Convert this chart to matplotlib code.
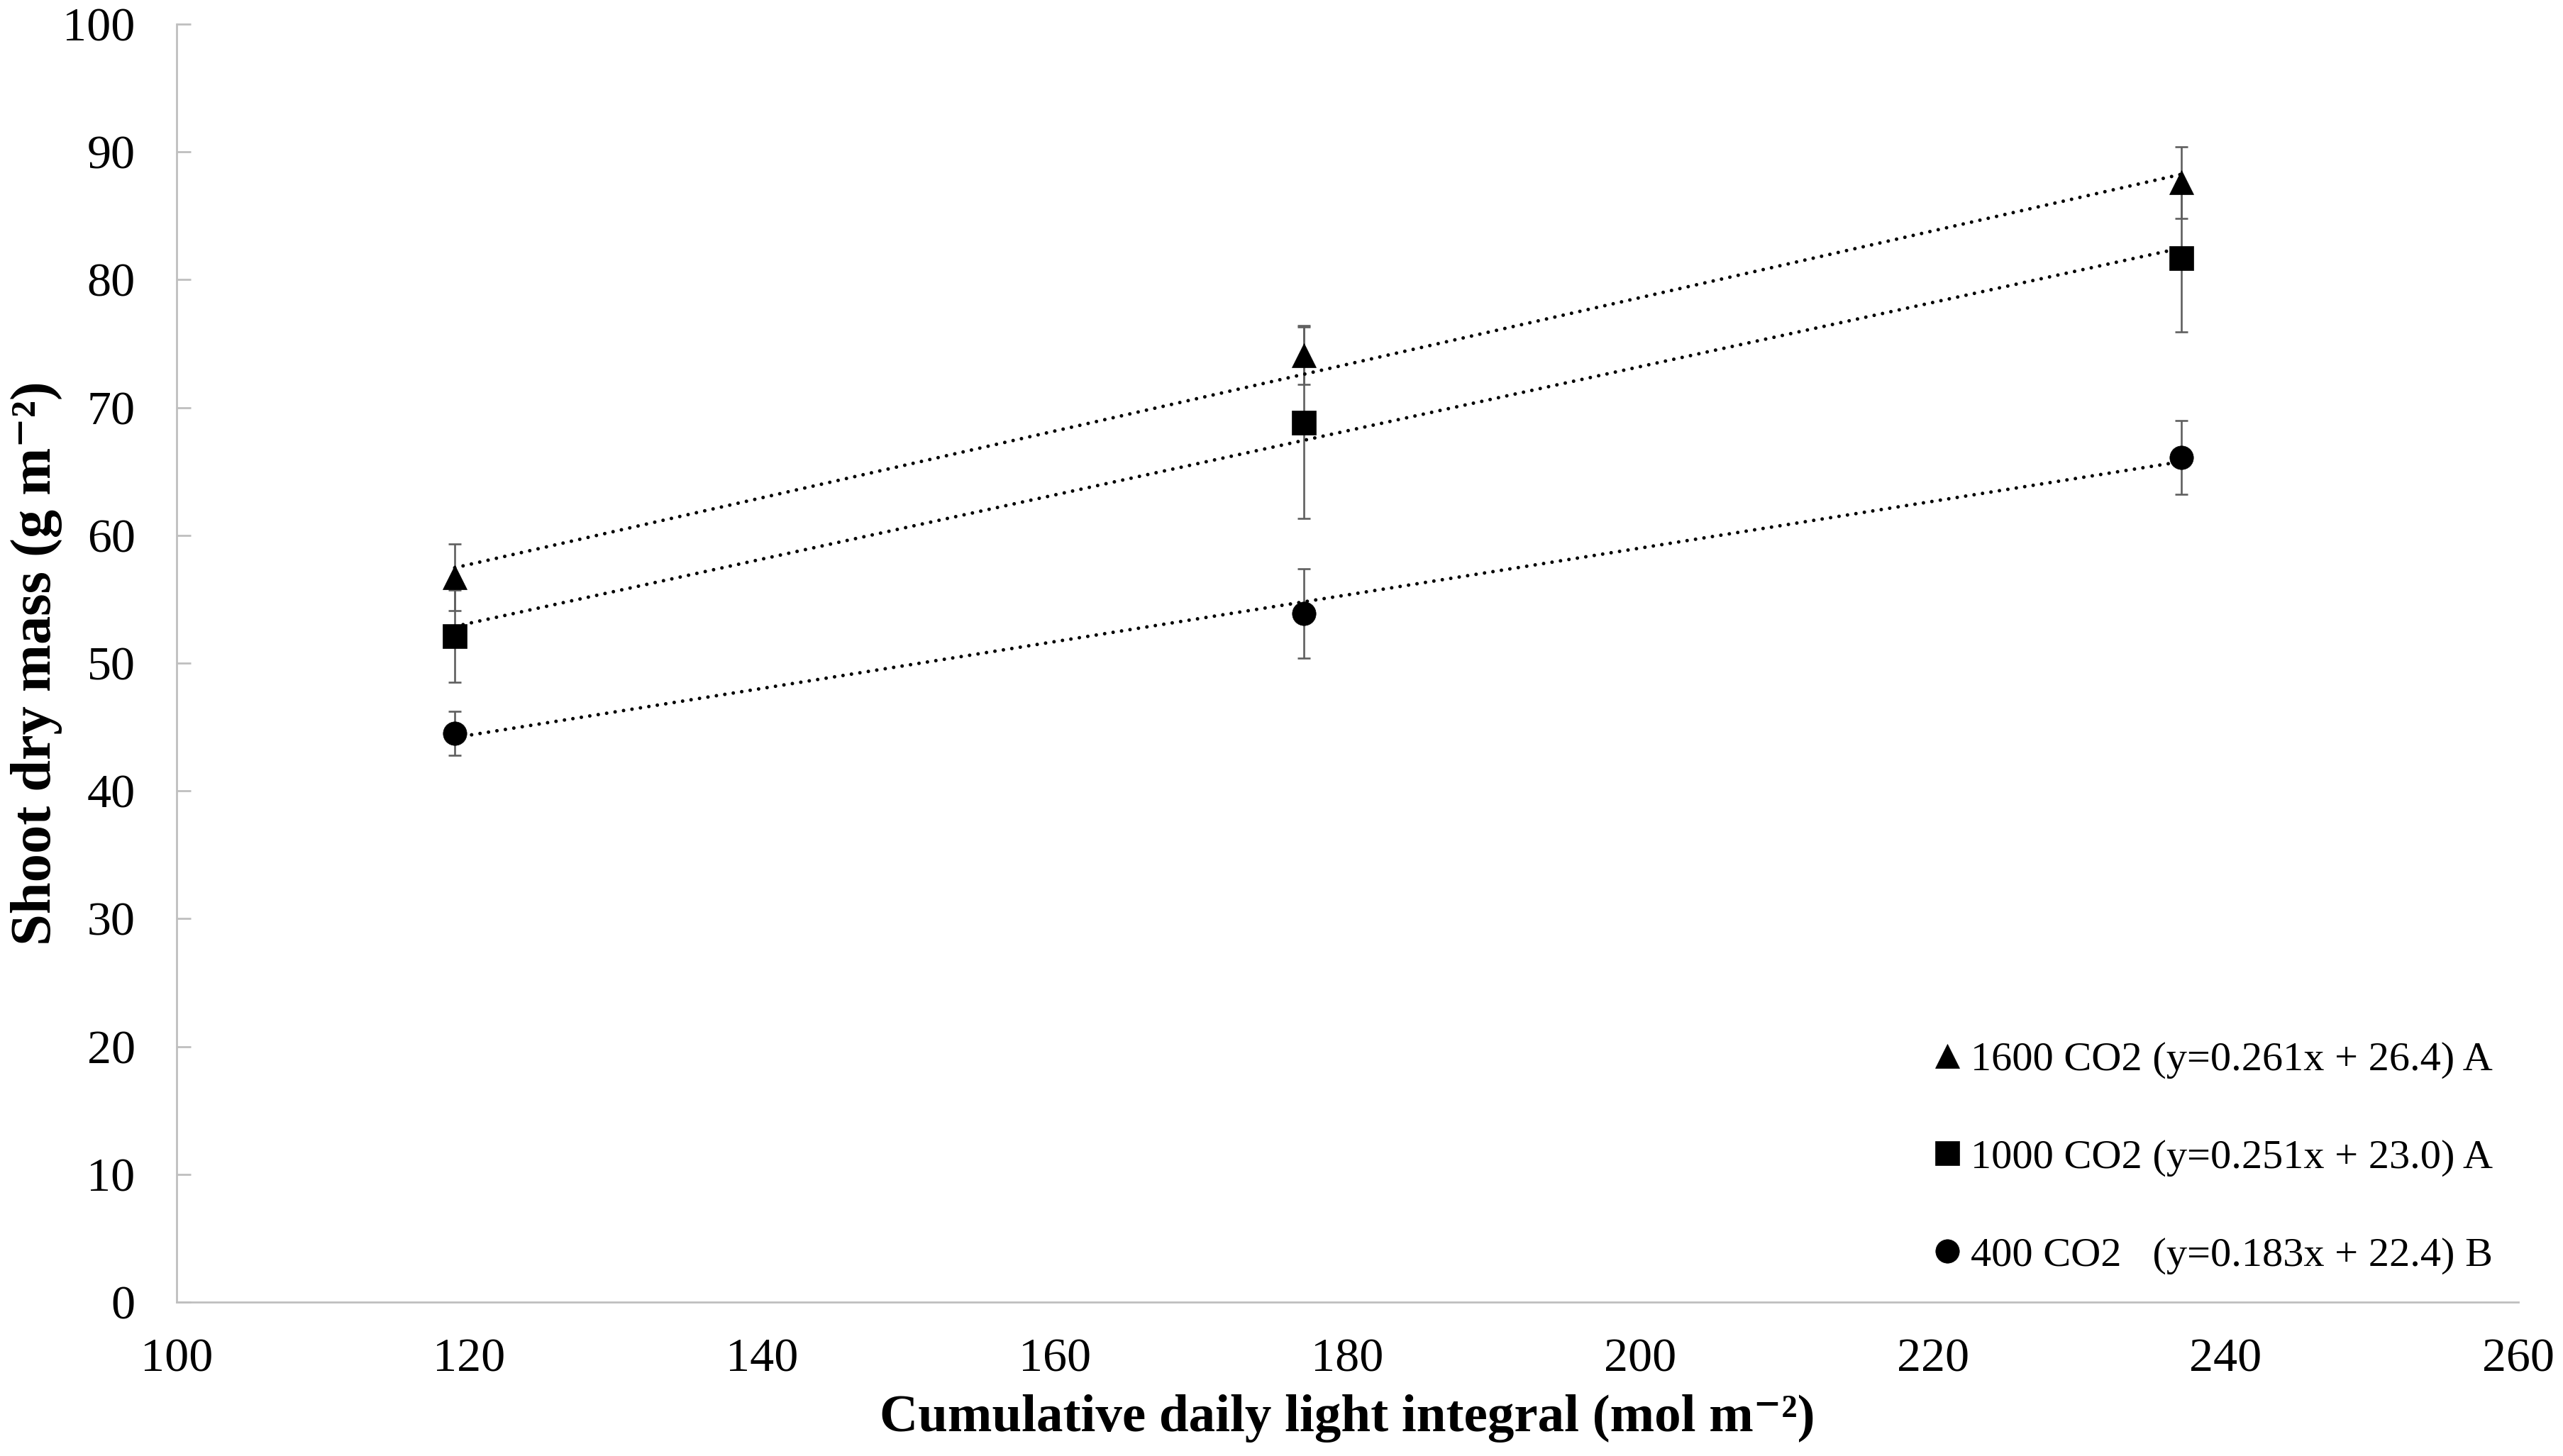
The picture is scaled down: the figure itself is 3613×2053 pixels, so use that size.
import matplotlib.pyplot as plt
import numpy as np

plt.rcParams['font.family'] = ['Liberation Serif', 'DejaVu Serif']

# cumulative DLI (mol m-2)
dli = [119, 177, 237]

# shoot dry mass means and error bars, one list per CO2 level
mass_1600 = [56.7, 74.1, 87.6]
err_1600 = [2.6, 2.3, 2.8]
mass_1000 = [52.1, 68.8, 81.7]
err_1000 = [3.6, 7.5, 5.8]
mass_400 = [44.5, 53.9, 66.1]
err_400 = [1.7, 3.5, 2.9]

# trendline coefficients as printed in the legend
slopes = [0.261, 0.251, 0.183]
intercepts = [26.4, 23.0, 22.4]

labels = ["1600 CO2 (y=0.261x + 26.4) A",
          "1000 CO2 (y=0.251x + 23.0) A",
          "400 CO2   (y=0.183x + 22.4) B"]
markers = ['^', 's', 'o']

fig = plt.figure(figsize=(36.13, 20.53), dpi=100)
ax = fig.add_axes([249 / 3613, 217 / 2053, (3550 - 249) / 3613, (1836 - 34) / 2053])

means = [mass_1600, mass_1000, mass_400]
errs = [err_1600, err_1000, err_400]
handles = []
for m, e, mk, k, b, lab in zip(means, errs, markers, slopes, intercepts, labels):
    ax.errorbar(dli, m, yerr=e, fmt='none', ecolor='#5f5f5f', elinewidth=1.9,
                capsize=6.5, capthick=1.9, zorder=2)
    xs = np.array([dli[0], dli[-1]])
    ax.plot(xs, k * xs + b, color='black', lw=3.6, linestyle=(0, (0.01, 2.4)),
            dash_capstyle='round', zorder=3)
    h, = ax.plot(dli, m, linestyle='none', marker=mk, color='black',
                 markersize=24, markeredgewidth=0.5, zorder=4, label=lab)
    handles.append(h)

ax.set_xlim(100, 260)
ax.set_ylim(0, 100)
ax.set_xticks(np.arange(100, 261, 20))
ax.set_yticks(np.arange(0, 101, 10))

for s in ['top', 'right']:
    ax.spines[s].set_visible(False)
for s in ['left', 'bottom']:
    ax.spines[s].set_color('#bfbfbf')
    ax.spines[s].set_linewidth(2)

ax.tick_params(axis='y', direction='in', length=14.5, width=2, color='#bfbfbf',
               pad=42, labelsize=49)
ax.tick_params(axis='x', length=0, pad=36, labelsize=49)

ax.set_xlabel('Cumulative daily light integral (mol m⁻²)',
              fontsize=54, fontweight='bold', labelpad=14)
ax.set_ylabel('Shoot dry mass (g m⁻²)', fontsize=58, fontweight='bold')
ax.yaxis.set_label_coords(-0.0488, 0.5)

ax.legend(handles=handles, loc='upper left', bbox_to_anchor=(0.7507, 0.204),
          frameon=False, fontsize=42, handlelength=0.62, handletextpad=0.26,
          labelspacing=1.45, borderpad=0, borderaxespad=0, numpoints=1)

fig.savefig('out.png', dpi=100)
